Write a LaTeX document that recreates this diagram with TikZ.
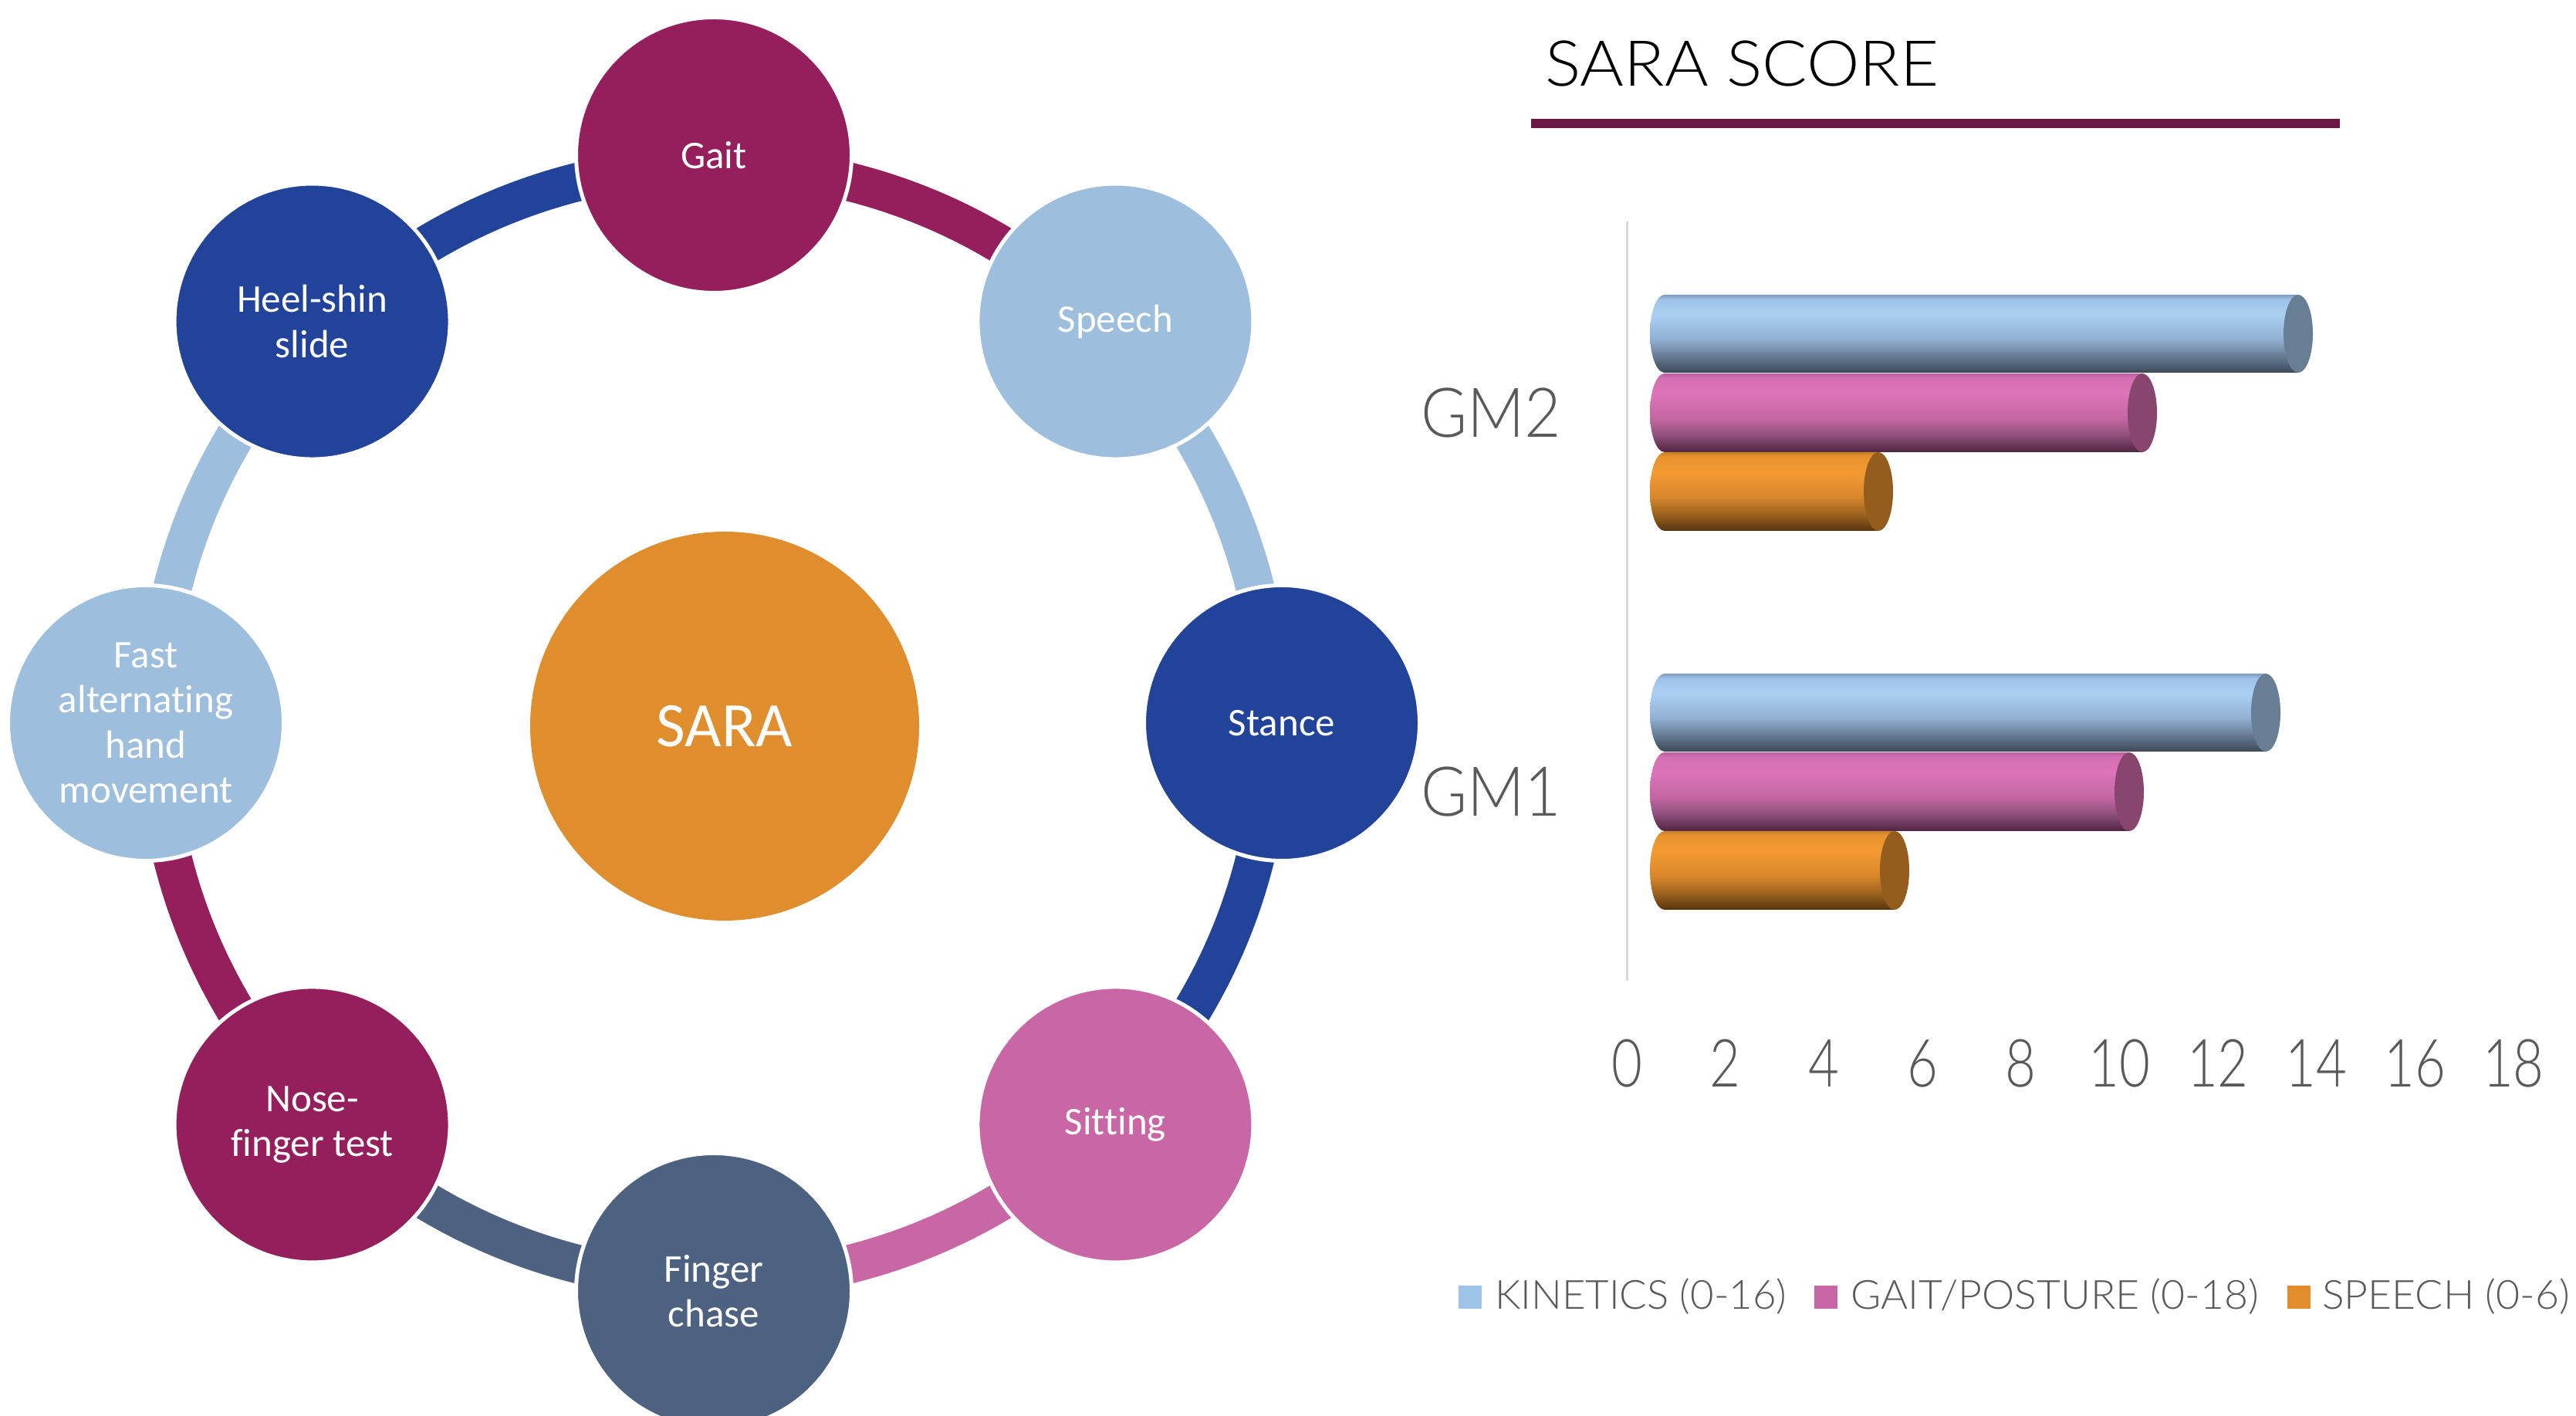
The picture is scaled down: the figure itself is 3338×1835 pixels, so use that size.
\documentclass[tikz,border=0pt]{standalone}
\usepackage{fontspec}
\usepackage{graphicx}
\setmainfont{Carlito}[Ligatures=NoCommon]
\newfontfamily\lightfont{Lato Light}
\definecolor{cGait}{HTML}{951E5C}
\definecolor{cLight}{HTML}{9DBEDC}
\definecolor{cDark}{HTML}{22439A}
\definecolor{cPink}{HTML}{C966A6}
\definecolor{cSlate}{HTML}{4C6280}
\definecolor{cOrange}{HTML}{E08E2D}
\definecolor{cUnder}{HTML}{6C1844}
\definecolor{cGray}{HTML}{595959}
\definecolor{cAxis}{HTML}{D9D9D9}
\definecolor{lgBlue}{HTML}{9DC3E6}
% cylinder colours
\definecolor{bT}{HTML}{7E9CC0}\definecolor{bF}{HTML}{9EC2E8}\definecolor{bE}{HTML}{ABD0F4}
\definecolor{bD}{HTML}{91B0D3}\definecolor{bC}{HTML}{6A8098}\definecolor{bB}{HTML}{3C4858}
\definecolor{pT}{HTML}{B9619D}\definecolor{pF}{HTML}{D46FB1}\definecolor{pE}{HTML}{DE74B8}
\definecolor{pD}{HTML}{C466A2}\definecolor{pC}{HTML}{92517F}\definecolor{pB}{HTML}{4F2440}
\definecolor{oT}{HTML}{C98229}\definecolor{oF}{HTML}{E8922F}\definecolor{oE}{HTML}{F49A32}
\definecolor{oD}{HTML}{D8872C}\definecolor{oC}{HTML}{A2651F}\definecolor{oB}{HTML}{563510}
\definecolor{capB}{HTML}{677E95}\definecolor{capP}{HTML}{88456E}\definecolor{capO}{HTML}{945D1D}
\pgfdeclareverticalshading{cylBlue}{100bp}{color(0bp)=(bB); color(25bp)=(bB); color(36.5bp)=(bC); color(46.5bp)=(bD); color(62.5bp)=(bE); color(72bp)=(bF); color(75bp)=(bT); color(100bp)=(bT)}
\pgfdeclareverticalshading{cylPink}{100bp}{color(0bp)=(pB); color(25bp)=(pB); color(36.5bp)=(pC); color(46.5bp)=(pD); color(62.5bp)=(pE); color(72bp)=(pF); color(75bp)=(pT); color(100bp)=(pT)}
\pgfdeclareverticalshading{cylOrange}{100bp}{color(0bp)=(oB); color(25bp)=(oB); color(36.5bp)=(oC); color(46.5bp)=(oD); color(62.5bp)=(oE); color(72bp)=(oF); color(75bp)=(oT); color(100bp)=(oT)}
\newcommand{\cylbar}[6]{% ytop ybot xright shading capcolor ymid
  \shade[shading=#4] (2157,#1) -- (#3,#1) -- (#3,#2) -- (2157,#2)
    arc[start angle=270, end angle=90, x radius=19pt, y radius={(#1-#2)/2*1pt}] -- cycle;
  \fill[#5] (#3,#6) ellipse[x radius=19pt, y radius={(#1-#2)/2*1pt}];
}
\tikzset{
  ringarc/.style={line width=50pt},
  stepnode/.style={circle, minimum size=357pt, inner sep=0pt, draw=white, line width=5pt,
    text=white, align=center, font=\fontsize{51}{58.5}\selectfont},
  axlabel/.style={inner sep=0pt, text=cGray, anchor=base},
  legsq/.style={inner sep=0pt, minimum size=30pt},
  legtext/.style={inner sep=0pt, text=cGray, anchor=base west}
}
\begin{document}
\begin{tikzpicture}[x=1pt,y=1pt]
\clip (0,0) rectangle (3338,1835);
\useasboundingbox (0,0) rectangle (3338,1835);
\fill[white] (0,0) rectangle (3338,1835);
\coordinate (C) at (925,898);
% ring arcs
\draw[ringarc, cGait]  ([shift={(90:723pt)}]C)  arc[start angle=90,  end angle=45,  radius=723pt];
\draw[ringarc, cLight] ([shift={(45:723pt)}]C)  arc[start angle=45,  end angle=0,   radius=723pt];
\draw[ringarc, cDark]  ([shift={(0:723pt)}]C)   arc[start angle=0,   end angle=-45, radius=723pt];
\draw[ringarc, cPink]  ([shift={(-45:723pt)}]C) arc[start angle=-45, end angle=-90, radius=723pt];
\draw[ringarc, cSlate] ([shift={(-90:723pt)}]C) arc[start angle=-90, end angle=-135,radius=723pt];
\draw[ringarc, cGait]  ([shift={(-135:723pt)}]C) arc[start angle=-135, end angle=-180, radius=723pt];
\draw[ringarc, cLight] ([shift={(180:723pt)}]C) arc[start angle=180, end angle=135, radius=723pt];
\draw[ringarc, cDark]  ([shift={(135:723pt)}]C) arc[start angle=135, end angle=90,  radius=723pt];
% step nodes
\node[stepnode, fill=cGait]  (gait)    at ([shift={(90:736pt)}]C)   {Gait};
\node[stepnode, fill=cLight] (speech)  at ([shift={(45:736pt)}]C)   {Speech};
\node[stepnode, fill=cDark]  (stance)  at ([shift={(0:736pt)}]C)    {Stance};
\node[stepnode, fill=cPink]  (sitting) at ([shift={(-45:736pt)}]C)  {Sitting};
\node[stepnode, fill=cSlate] (finger)  at ([shift={(-90:736pt)}]C)  {Finger\\chase};
\node[stepnode, fill=cGait]  (nose)    at ([shift={(-135:736pt)}]C) {Nose-\\finger test};
\node[stepnode, fill=cLight] (fast)    at ([shift={(180:736pt)}]C)  {Fast\\alternating\\hand\\movement};
\node[stepnode, fill=cDark]  (heel)    at ([shift={(135:736pt)}]C)  {Heel-shin\\slide};
% centre
\node[circle, fill=cOrange, minimum size=504pt, inner sep=0pt, text=white,
      font=\fontsize{82}{98}\selectfont] (sara) at (939,894) {SARA};
% chart title
\node[inner sep=0pt, anchor=base west] (title) at (2002,1723)
  {\resizebox{510pt}{\height}{\lightfont\fontsize{82}{98}\selectfont SARA SCORE}};
\fill[cUnder] (1984,1669) rectangle (3032,1681);
% axis
\coordinate (axtop) at (2108,1548);
\coordinate (axbot) at (2108,564);
\draw[cAxis, line width=3pt] (axtop) -- (axbot);
% group labels
\node[inner sep=0pt, anchor=base west, text=cGray] (gm2) at (1841,1268)
  {\resizebox{182pt}{\height}{\lightfont\fontsize{89}{100}\selectfont GM2}};
\node[inner sep=0pt, anchor=base west, text=cGray] (gm1) at (1841,777)
  {\resizebox{182pt}{\height}{\lightfont\fontsize{89}{100}\selectfont GM1}};
% bars GM2
\cylbar{1453}{1352}{2978}{cylBlue}{capB}{1402.5}
\cylbar{1351}{1249}{2776}{cylPink}{capP}{1300}
\cylbar{1249}{1147}{2434}{cylOrange}{capO}{1198}
% bars GM1
\cylbar{962}{861}{2936}{cylBlue}{capB}{911.5}
\cylbar{860}{758}{2759}{cylPink}{capP}{809}
\cylbar{758}{656}{2455}{cylOrange}{capO}{707}
% axis numbers
\foreach \v [count=\i from 0] in {0,2,4,6,8,10,12,14,16,18}{
  \node[axlabel] (ax\i) at ({2108+63.83*\v},426)
    {\scalebox{0.8}[1]{\lightfont\fontsize{86}{100}\selectfont \v}};
}
% legend
\node[legsq, fill=lgBlue] (lg1) at (1905,154) {};
\node[legtext] (lt1) at (1937,138) {\resizebox{378pt}{\height}{\lightfont\fontsize{52}{60}\selectfont KINETICS (0-16)}};
\node[legsq, fill=cPink] (lg2) at (2366,154) {};
\node[legtext] (lt2) at (2398,138) {\resizebox{529pt}{\height}{\lightfont\fontsize{52}{60}\selectfont GAIT/POSTURE (0-18)}};
\node[legsq, fill=cOrange] (lg3) at (2979,154) {};
\node[legtext] (lt3) at (3009,138) {\resizebox{321pt}{\height}{\lightfont\fontsize{52}{60}\selectfont SPEECH (0-6)}};
\end{tikzpicture}
\end{document}
